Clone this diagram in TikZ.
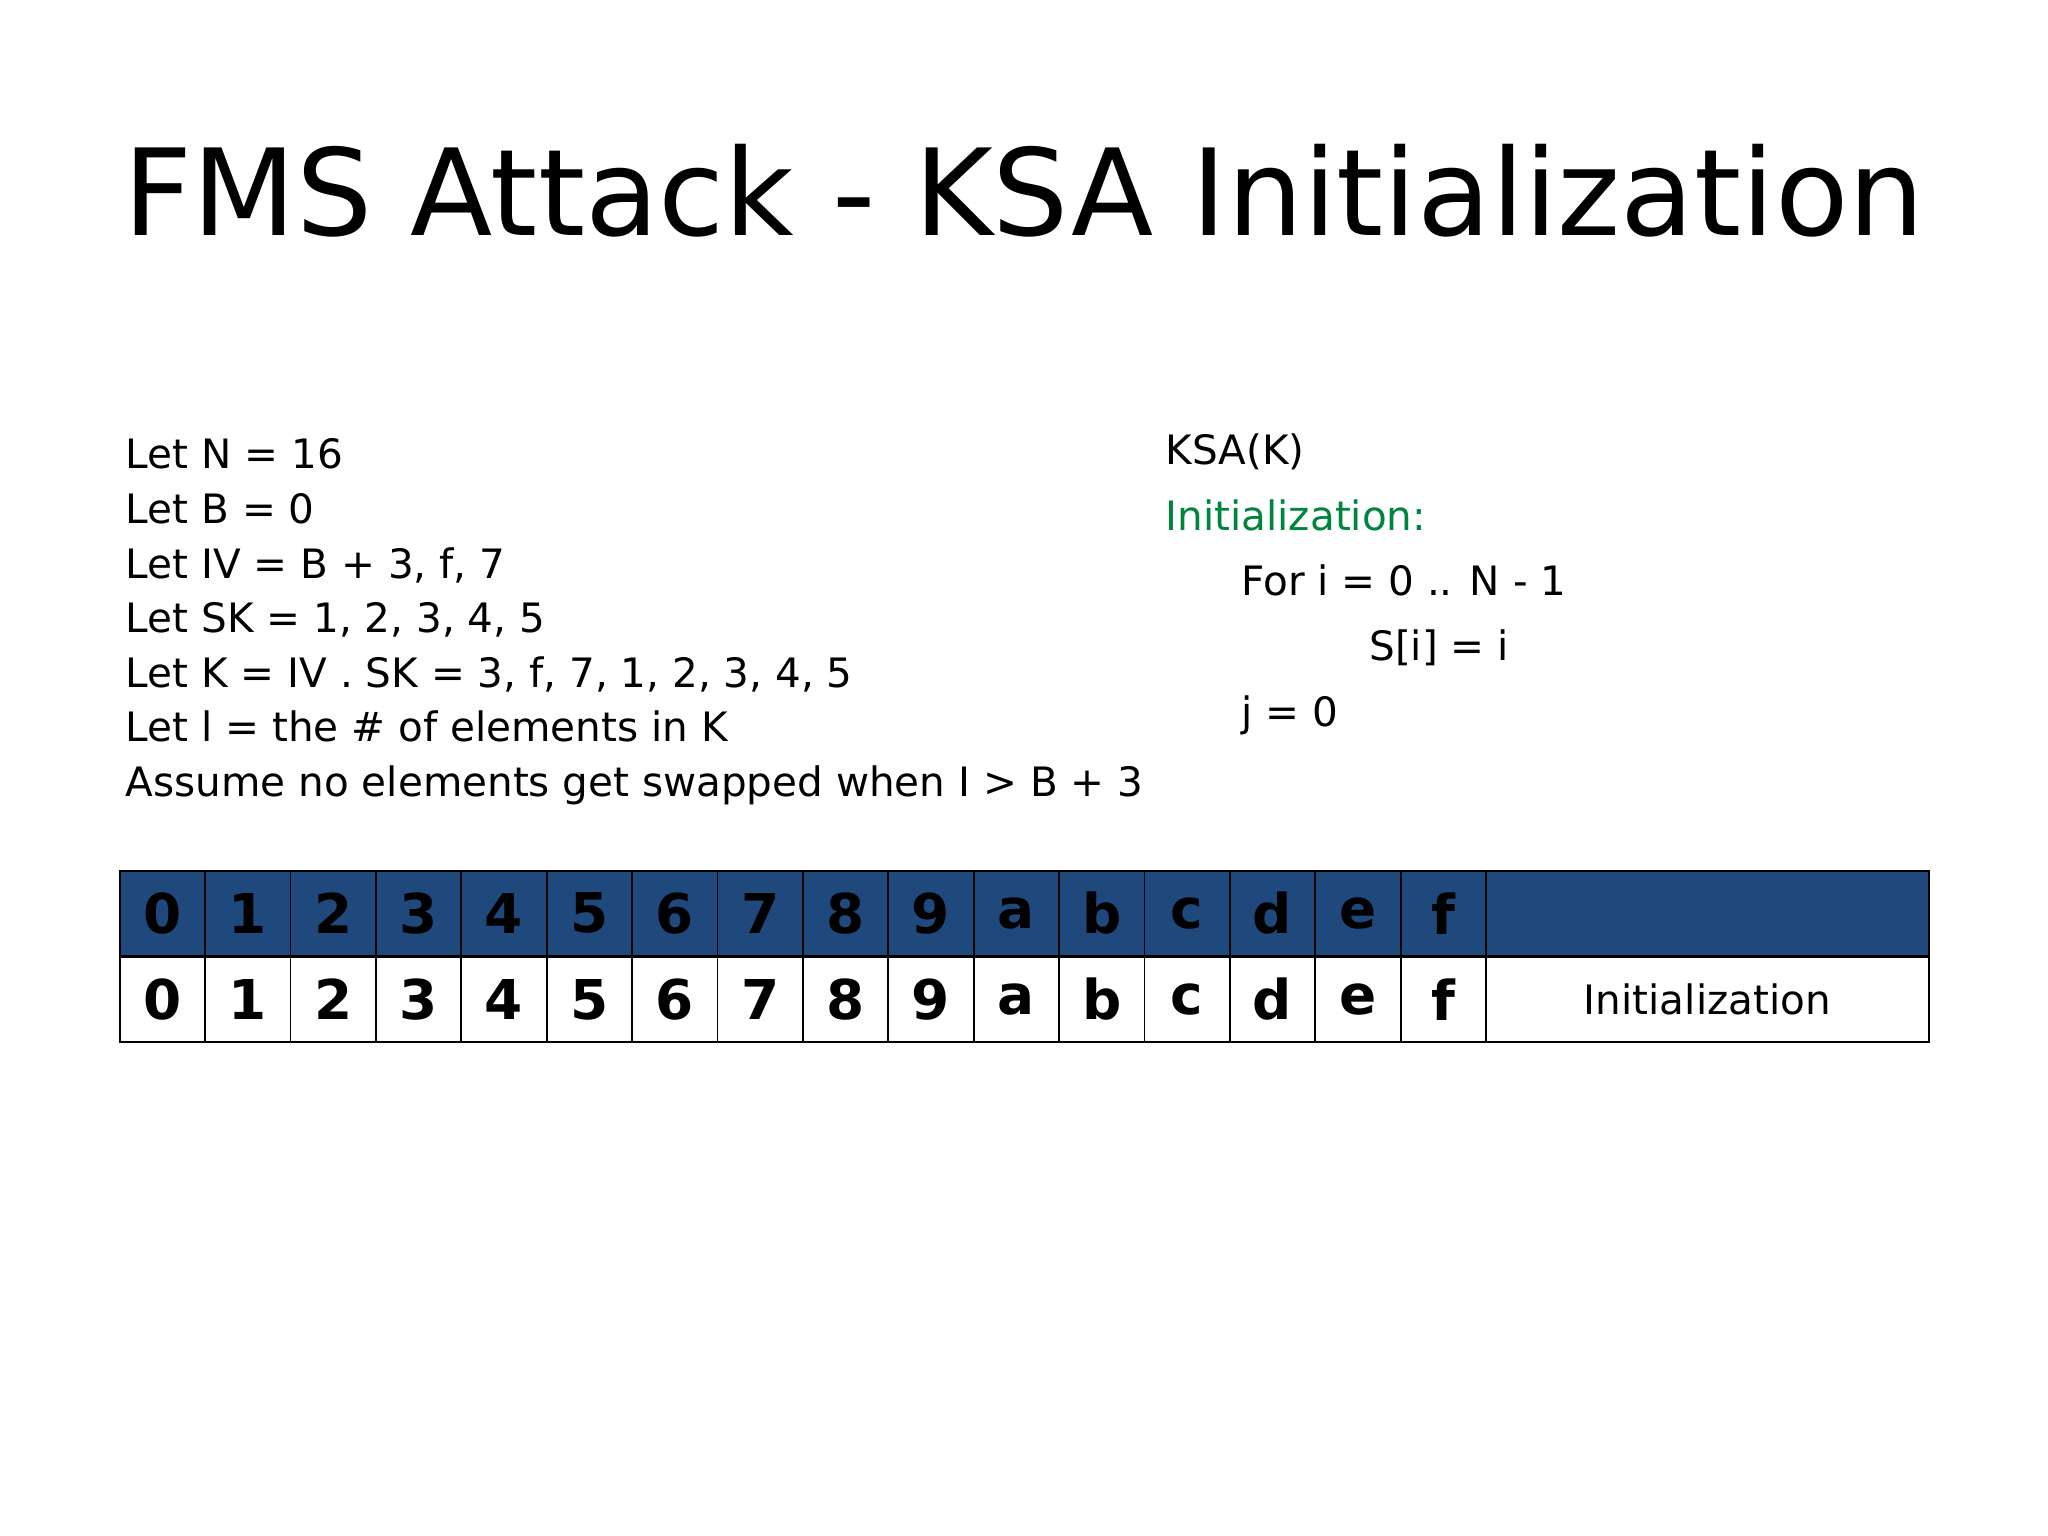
\documentclass[tikz,border=0pt]{standalone}
\usepackage{fontspec}
\setmainfont{DejaVu Sans}
\definecolor{hdr}{RGB}{31,73,125}
\definecolor{grn}{RGB}{0,133,62}
\begin{document}
\begin{tikzpicture}[x=0.5pt,y=-0.5pt,
  txt/.style={anchor=base west,inner sep=0pt,font=\fontsize{15.5}{18}\selectfont},
  cell/.style={draw=black,line width=0.7pt,minimum width=32.7pt,minimum height=32.5pt,inner sep=0pt,anchor=north west,font=\bfseries\fontsize{21}{24}\selectfont}]
\useasboundingbox (0,0) rectangle (1568,1176);
\node[anchor=base,inner sep=0pt,font=\fontsize{46}{50}\selectfont] (title) at (784,180) {FMS Attack - KSA Initialization};
\foreach \t [count=\k] in {Let N = 16,Let B = 0,{Let IV = B + 3, f, 7},{Let SK = 1, 2, 3, 4, 5},{Let K = IV . SK = 3, f, 7, 1, 2, 3, 4, 5},Let l = the \# of elements in K,Assume no elements get swapped when I > B + 3}
  \node[txt] (l\k) at (96,{348+11+(\k-1)*41.8}) {\t};
\node[txt] (k1) at (892,356) {KSA(K)};
\node[txt,text=grn] (k2) at (892,406) {Initialization:};
\node[txt] (k3) at (950,456) {For i = 0 .. N - 1};
\node[txt] (k4) at (1048,506) {S[i] = i};
\node[txt] (k5) at (950,556) {j = 0};
\foreach \v [count=\k from 0] in {0,1,2,3,4,5,6,7,8,9,a,b,c,d,e,f}{
  \node[cell,fill=hdr] (h\k) at ({91+\k*65.375},666) {\v};
  \node[cell] (r\k) at ({91+\k*65.375},732) {\v};
}
\node[cell,fill=hdr,minimum width=169.5pt] (hx) at (1137,666) {};
\node[cell,minimum width=169.5pt,font=\fontsize{15.5}{18}\selectfont] (rx) at (1137,732) {Initialization};
\end{tikzpicture}
\end{document}
